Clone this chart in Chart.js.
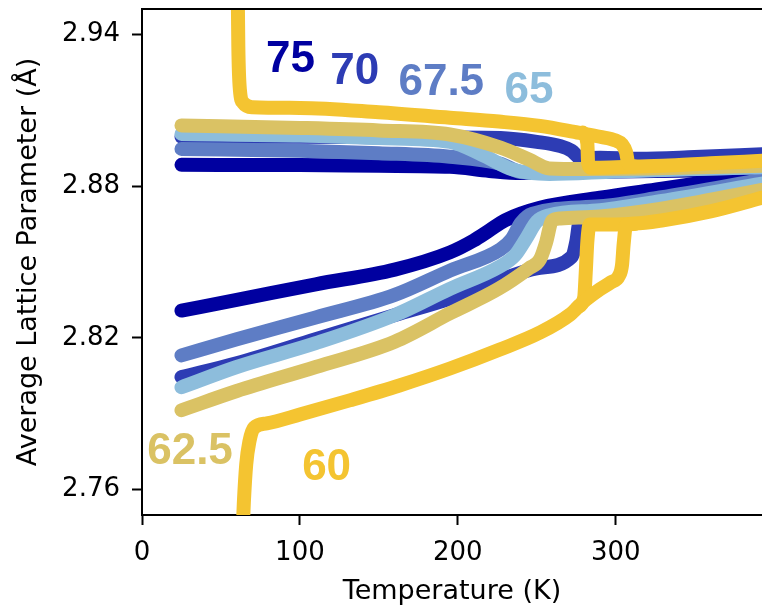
<!doctype html>
<html>
<head>
<meta charset="utf-8" />
<title>Average lattice parameter vs temperature</title>
<style>
  html, body { margin: 0; padding: 0; background: #fff; }
  #chart { display: block; }
</style>
<script src="https://cdn.jsdelivr.net/npm/chart.js"></script>
</head>
<body>
<canvas id="chart" width="762" height="612"></canvas>
<script>
// axis ticks
const xTicks = [0, 100, 200, 300];
const yTicks = [2.76, 2.82, 2.88, 2.94];

// 60 (yellow): heating paths + cooling pieces of the loops
const up60T = [60.5, 61, 62, 64, 70, 100, 150, 195, 226, 252, 277, 290, 300, 304, 306.5, 308, 312, 330, 360, 392.6];
const up60A = [2.965, 2.935, 2.918, 2.913, 2.9112, 2.9109, 2.9092, 2.907, 2.9055, 2.9038, 2.901, 2.8995, 2.898, 2.8965, 2.8935, 2.8888, 2.8877, 2.888, 2.889, 2.890];
const cool60UpT = [312, 290, 284, 282.5, 282, 279];
const cool60UpA = [2.8877, 2.8873, 2.8873, 2.889, 2.897, 2.9012];
const lo60T = [63.5, 64.5, 66, 68, 71, 79, 100, 131.5, 163, 195, 226.6, 252, 271, 279, 290, 297, 302, 304, 305, 306.5, 312, 330, 360, 392.6];
const lo60A = [2.74, 2.755, 2.77, 2.779, 2.7845, 2.7862, 2.7897, 2.7953, 2.8012, 2.8079, 2.8154, 2.8221, 2.8292, 2.834, 2.8392, 2.842, 2.8445, 2.849, 2.857, 2.8645, 2.8652, 2.8665, 2.870, 2.8754];
const cool60LoT = [312, 290, 283.5, 282, 281, 280, 276];
const cool60LoA = [2.8650, 2.8648, 2.8648, 2.858, 2.846, 2.836, 2.8322];

// 62.5 (khaki)
const up625T = [25, 100, 150, 195, 227, 245, 258, 280, 320, 392.6];
const up625A = [2.904, 2.903, 2.902, 2.9004, 2.8952, 2.8905, 2.887, 2.8868, 2.887, 2.888];
const lo625T = [25, 60, 110, 160, 195, 226, 245, 252, 256, 259.5, 265, 290, 328, 392.6];
const lo625A = [2.7914, 2.799, 2.8085, 2.8185, 2.8297, 2.8395, 2.8475, 2.851, 2.858, 2.8662, 2.8672, 2.868, 2.871, 2.8785];

// 65 (light blue)
const up65T = [25, 100, 150, 195, 215, 235, 258, 300, 392.6];
const up65A = [2.9006, 2.9, 2.899, 2.8975, 2.8925, 2.8865, 2.8848, 2.8858, 2.8875];
const lo65T = [25, 60, 110, 160, 195, 226, 236, 243, 250, 258, 290, 328, 392.6];
const lo65A = [2.8005, 2.8085, 2.8179, 2.829, 2.8394, 2.848, 2.8525, 2.859, 2.866, 2.8685, 2.8705, 2.874, 2.881];

// 67.5 (mid blue)
const up675T = [25, 100, 150, 195, 227, 240, 250, 300, 392.6];
const up675A = [2.8947, 2.894, 2.893, 2.8916, 2.8888, 2.8855, 2.8852, 2.886, 2.8875];
const lo675T = [25, 60, 110, 160, 195, 227, 234, 240, 247, 290, 328, 392.6];
const lo675A = [2.8131, 2.8195, 2.8281, 2.837, 2.8466, 2.855, 2.859, 2.8655, 2.869, 2.872, 2.8755, 2.8825];

// 70 (blue)
const up70T = [25, 100, 195, 227, 250, 265, 272, 278, 290, 315, 350, 392.6];
const up70A = [2.8995, 2.8995, 2.8992, 2.899, 2.8975, 2.8958, 2.894, 2.891, 2.8912, 2.8908, 2.8915, 2.8926];
const lo70T = [25, 60, 110, 160, 195, 227, 250, 272, 275, 277, 282, 328, 392.6];
const lo70A = [2.8045, 2.81, 2.8195, 2.829, 2.8355, 2.843, 2.8475, 2.852, 2.858, 2.866, 2.8688, 2.8728, 2.88];

// 75 (navy)
const up75T = [25, 100, 150, 195, 220, 240, 300, 392.6];
const up75A = [2.8884, 2.8883, 2.888, 2.8876, 2.886, 2.8852, 2.8858, 2.8865];
const lo75T = [25, 60, 110, 160, 195, 210, 220, 230, 252, 290, 328, 392.6];
const lo75A = [2.8308, 2.835, 2.8412, 2.847, 2.8538, 2.8585, 2.8625, 2.8665, 2.8714, 2.8754, 2.8789, 2.8848];

// in-plot labels
const labelText = ['75', '70', '67.5', '65', '62.5', '60'];
const labelT = [94, 134.7, 189.5, 245, 30.4, 116.9];
const labelA = [2.9314, 2.9265, 2.9222, 2.919, 2.7765, 2.770];

const colors = {
  '60': '#F4C431', '62.5': '#DAC264', '65': '#8DBDDC',
  '67.5': '#5E7DC5', '70': '#2D3CB4', '75': '#0000A0'
};
const labelColor = ['#0000A0', '#2D3CB4', '#5E7DC5', '#8DBDDC', '#DAC264', '#F4C431'];

function pts(T, A) { return T.map((t, i) => ({ x: t, y: A[i] })); }
function line(key, T, A) {
  return {
    label: key, data: pts(T, A), showLine: true, borderColor: colors[key],
    backgroundColor: colors[key], borderWidth: 14, pointRadius: 0, fill: false,
    cubicInterpolationMode: 'monotone', borderCapStyle: 'round', borderJoinStyle: 'round', clip: 0
  };
}

// first dataset ends up on top
const datasets = [
  line('60', up60T, up60A), line('60', cool60UpT, cool60UpA),
  line('60', lo60T, lo60A), line('60', cool60LoT, cool60LoA),
  line('62.5', up625T, up625A), line('62.5', lo625T, lo625A),
  line('65', up65T, up65A), line('65', lo65T, lo65A),
  line('67.5', up675T, up675A), line('67.5', lo675T, lo675A),
  line('70', up70T, up70A), line('70', lo70T, lo70A),
  line('75', up75T, up75A), line('75', lo75T, lo75A)
];

const framePlugin = {
  id: 'frame',
  afterDatasetsDraw(chart) {
    const { ctx, chartArea: a } = chart;
    ctx.save();
    ctx.strokeStyle = '#000';
    ctx.lineWidth = 2;
    ctx.beginPath();
    ctx.moveTo(a.left, a.top);
    ctx.lineTo(a.right + 2, a.top);
    ctx.stroke();
    // composition labels
    ctx.font = 'bold 44px "Liberation Sans", Arial, sans-serif';
    ctx.textAlign = 'center';
    ctx.textBaseline = 'alphabetic';
    labelText.forEach((t, i) => {
      const x = chart.scales.x.getPixelForValue(labelT[i]);
      const y = chart.scales.y.getPixelForValue(labelA[i]);
      ctx.fillStyle = labelColor[i];
      ctx.fillText(t, x, y + 16);
    });
    ctx.restore();
  }
};

const tickFont = { family: 'DejaVu Sans', size: 26 };
const titleFont = { family: 'DejaVu Sans', size: 27 };

new Chart(document.getElementById('chart'), {
  type: 'scatter',
  data: { datasets },
  plugins: [framePlugin],
  options: {
    responsive: false,
    animation: false,
    layout: { padding: { top: 9, right: 0, left: 0, bottom: 0 } },
    plugins: { legend: { display: false }, tooltip: { enabled: false } },
    scales: {
      x: {
        type: 'linear', min: 0, max: 392.6,
        afterBuildTicks: s => { s.ticks = xTicks.map(v => ({ value: v })); },
        afterFit: s => { s.height = 97; s.paddingLeft = 0; s.paddingRight = 0; },
        ticks: { font: tickFont, color: '#000', padding: 13, maxRotation: 0, callback: v => String(v) },
        grid: { drawOnChartArea: false, drawTicks: true, tickLength: 10, tickWidth: 2, tickColor: '#000' },
        border: { display: true, color: '#000', width: 2 },
        title: { display: true, text: 'Temperature (K)', font: titleFont, color: '#000', padding: { top: 4, bottom: 4 } }
      },
      y: {
        type: 'linear', min: 2.75, max: 2.95,
        afterBuildTicks: s => { s.ticks = yTicks.map(v => ({ value: v })); },
        afterFit: s => { s.width = 142; s.paddingTop = 0; s.paddingBottom = 0; },
        ticks: { font: tickFont, color: '#000', padding: 12, callback: v => v.toFixed(2) },
        grid: { drawOnChartArea: false, drawTicks: true, tickLength: 10, tickWidth: 2, tickColor: '#000' },
        border: { display: true, color: '#000', width: 2 },
        title: { display: true, text: 'Average Lattice Parameter (Å)', font: titleFont, color: '#000', padding: { top: 13, bottom: 0 } }
      }
    }
  }
});
</script>
</body>
</html>
